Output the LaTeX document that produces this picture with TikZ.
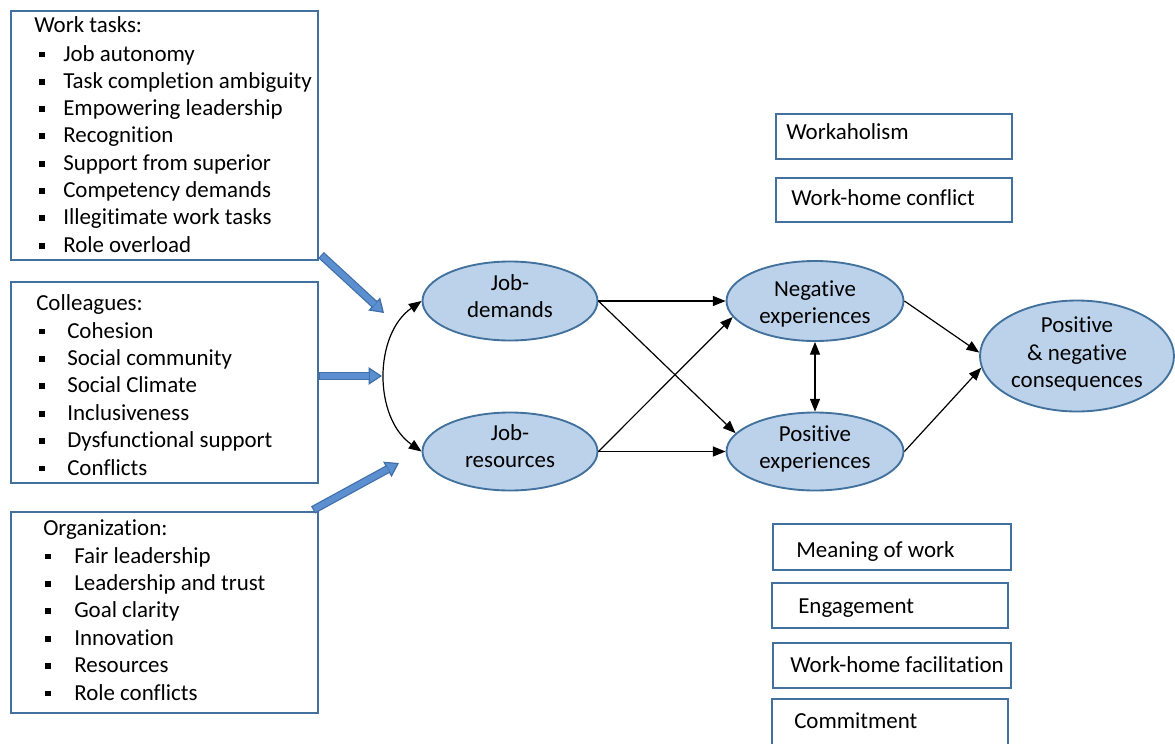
\documentclass[tikz,border=0pt]{standalone}
\usepackage{fontspec}
\setmainfont{Carlito}[Ligatures={NoCommon}]
\usetikzlibrary{arrows.meta,shapes.geometric,fit}
\definecolor{boxline}{HTML}{41719C}
\definecolor{ovalfill}{HTML}{BCD2EA}
\definecolor{blockblue}{HTML}{5B8FD0}
\definecolor{blockdark}{HTML}{3F6EA8}
\begin{document}
\begin{tikzpicture}[x=0.75pt,y=-0.75pt,
  every node/.style={font=\fontsize{17.2}{20.8}\selectfont},
  frame/.style={draw=boxline, line width=1.6pt, rectangle, inner sep=0pt},
  oval/.style={ellipse, draw=boxline, line width=1.4pt, fill=ovalfill, inner sep=0pt},
  lbl/.style={align=center, inner sep=0pt},
  txt/.style={anchor=base west, inner sep=0pt},
  bul/.style={fill=black, rectangle, minimum size=4.4pt, inner sep=0pt},
  flow/.style={-{Triangle[length=9.5pt,width=7.5pt]}, line width=0.9pt},
  biflow/.style={{Triangle[length=9.5pt,width=7.5pt]}-{Triangle[length=9.5pt,width=7.5pt]}, line width=0.9pt},
  blockout/.style={line width=6.2pt, draw=blockdark, -{Triangle[length=10pt,width=13pt,line width=0.9pt,fill=blockblue]}},
  blockin/.style={line width=4.4pt, draw=blockblue, shorten >=9.5pt, shorten <=0.9pt}]
\useasboundingbox (0,0) rectangle (1175,743);
\clip (0,0) rectangle (1175,743);

% ---------- left boxes ----------
\node[frame, fit={(11,11) (318,260)}] (wt) {};
\node[txt] (wt-title) at (34,32) {Work tasks:};
\foreach \t [count=\i] in {Job autonomy, Task completion ambiguity, Empowering leadership, Recognition, Support from superior, Competency demands, Illegitimate work tasks, Role overload} {
  \node[txt] (wt-\i) at (63,{61+27.3*(\i-1)}) {\t};
  \node[bul] (wtb-\i) at (42,{54.5+27.3*(\i-1)}) {};
}

\node[frame, fit={(11,282) (318,483)}] (col) {};
\node[txt] (col-title) at (36,310) {Colleagues:};
\foreach \t [count=\i] in {Cohesion, Social community, Social Climate, Inclusiveness, Dysfunctional support, Conflicts} {
  \node[txt] (col-\i) at (67,{338+27.4*(\i-1)}) {\t};
  \node[bul] (colb-\i) at (42,{331.5+27.4*(\i-1)}) {};
}

\node[frame, fit={(11,512) (318,713)}] (org) {};
\node[txt] (org-title) at (43,535) {Organization:};
\foreach \t [count=\i] in {Fair leadership, Leadership and trust, Goal clarity, Innovation, Resources, Role conflicts} {
  \node[txt] (org-\i) at (74,{563+27.4*(\i-1)}) {\t};
  \node[bul] (orgb-\i) at (48,{556.5+27.4*(\i-1)}) {};
}

% ---------- ellipses ----------
\node[oval, minimum width=131.25pt, minimum height=59.25pt] (jd) at (510,301) {};
\node[lbl] (jd-t) at (510,296) {Job-\\demands};
\node[oval, minimum width=131.25pt, minimum height=58.5pt] (jr) at (510,451.5) {};
\node[lbl] (jr-t) at (510,446) {Job-\\resources};
\node[oval, minimum width=132.75pt, minimum height=60pt] (ne) at (815,301) {};
\node[lbl] (ne-t) at (815,304) {Negative\\experiences};
\node[oval, minimum width=132.75pt, minimum height=58.5pt] (pe) at (815,451.5) {};
\node[lbl] (pe-t) at (815,449) {Positive\\experiences};
\node[oval, minimum width=145.5pt, minimum height=83.25pt] (cons) at (1077,356) {};
\node[lbl] (cons-t) at (1077,354) {Positive\\\&~negative\\consequences};

% ---------- right boxes ----------
\node[frame, fit={(776,114) (1012,159)}] (wk) {};
\node[txt] (wk-t) at (786,139) {Workaholism};
\node[frame, fit={(776,178) (1012,222)}] (whc) {};
\node[txt] (whc-t) at (791,205) {Work-home conflict};
\node[frame, fit={(773,524) (1011,570)}] (mw) {};
\node[txt] (mw-t) at (796,557) {Meaning of work};
\node[frame, fit={(772,583) (1008,628)}] (eng) {};
\node[txt] (eng-t) at (798,613) {Engagement};
\node[frame, fit={(773,643) (1011,688)}] (whf) {};
\node[txt] (whf-t) at (790,672) {Work-home facilitation};
\node[frame, fit={(772,699) (1008,770)}] (com) {};
\node[txt] (com-t) at (794,728) {Commitment};

% ---------- black connectors ----------
\draw[flow] (jd.east) -- (ne.west);
\draw[flow] (jd.east) -- (pe.167);
\draw[flow] (jr.east) -- (pe.west);
\draw[flow] (jr.east) -- (ne.191);
\draw[biflow] (ne.south) -- (pe.north);
\draw[flow] (ne.east) -- (cons.178);
\draw[flow] (pe.east) -- (cons.187);
\draw[biflow] (jd.west) to[bend right=55] (jr.west);

% ---------- block arrows ----------
\coordinate (a1) at (384,313);
\coordinate (a2) at (382,376);
\coordinate (a3) at (399,463);
\coordinate (s1) at ([shift={(2,-6)}]wt.south east);
\coordinate (s2) at (col.east |- a2);
\coordinate (s3) at ([shift={(-6,-1)}]org.north east);
\foreach \s/\e in {s1/a1, s2/a2, s3/a3} {
  \draw[blockout] (\s) -- (\e);
  \draw[blockin] (\s) -- (\e);
}
\end{tikzpicture}
\end{document}
